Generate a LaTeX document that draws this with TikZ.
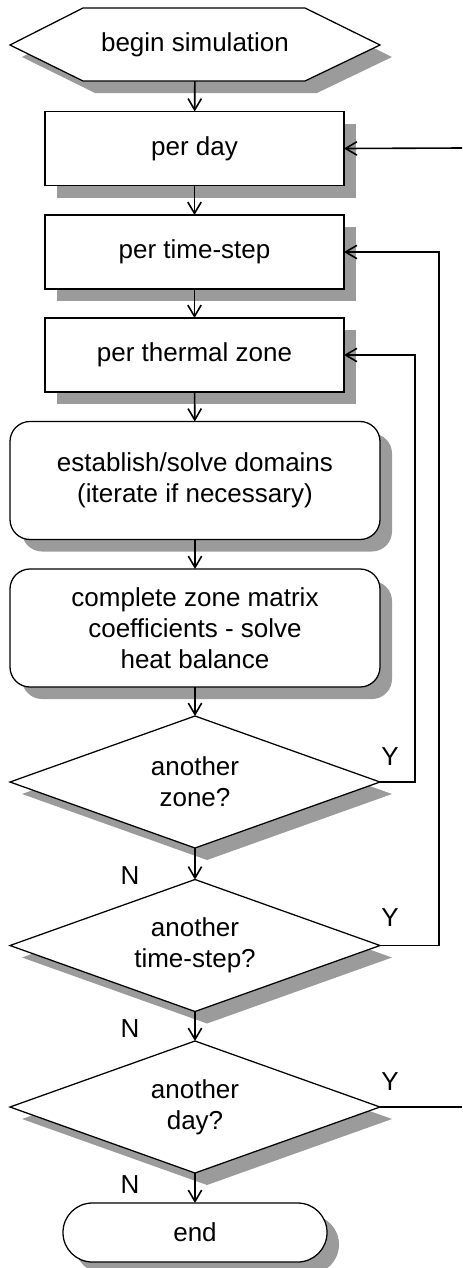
\documentclass[tikz,border=0pt]{standalone}
\usepackage{fontspec}
\setmainfont{Liberation Sans}
\usetikzlibrary{shapes.geometric,shadows,arrows.meta}
\definecolor{shadowgray}{RGB}{155,155,155}
\tikzset{
  shd/.style={drop shadow={shadow xshift=9pt, shadow yshift=-9pt, fill=shadowgray, opacity=1}},
  txt/.style={font=\fontsize{19.5}{23.4}\selectfont, align=center},
  boxshape/.style={shd, txt, draw, fill=white, line width=0.95pt, inner sep=0pt, outer sep=0pt},
  sqbox/.style={boxshape, rectangle, minimum width=224.25pt, minimum height=55.5pt},
  rbox/.style={boxshape, rectangle, rounded corners=15pt, minimum width=277.5pt, minimum height=88.5pt},
  decision/.style={boxshape, diamond, aspect=2.8, minimum width=277.5pt, minimum height=99pt},
  terminal/.style={boxshape, rectangle, rounded corners=22pt, minimum width=198pt, minimum height=44.25pt},
  conn/.style={line width=1.2pt, -{Straight Barb[length=8.5pt,width=10pt,line width=1.2pt]}},
  plainconn/.style={line width=1.2pt},
  lbl/.style={txt, inner sep=0pt}
}
\begin{document}
\begin{tikzpicture}[x=0.75pt,y=-0.75pt]
\useasboundingbox (0,0) rectangle (462,1268);
% begin hexagon
\path[shd, draw, fill=white, line width=0.95pt] (10,45) -- (83,8) -- (305,8) -- (380,45) -- (305,81) -- (83,81) -- cycle;
\node[txt, rectangle, minimum width=277.5pt, minimum height=54.75pt, inner sep=0pt, outer sep=0pt] (begin) at (195,44.5) {begin simulation};
\node[sqbox] (perday) at (194.5,148.5) {per day};
\node[sqbox] (pertime) at (194.5,252) {per time-step};
\node[sqbox] (perzone) at (194.5,355) {per thermal zone};
\node[rbox] (establish) at (195,480.5) {establish/solve domains\\(iterate if necessary)};
\node[rbox] (complete) at (195,628) {complete zone matrix\\coefficients - solve\\heat balance};
\node[decision] (d1) at (195,782) {another\\zone?};
\node[decision] (d2) at (195,945.5) {another\\time-step?};
\node[decision] (d3) at (195,1107) {another\\day?};
\node[terminal] (end) at (195,1232.5) {end};
\coordinate (dayin) at (462,148);
\coordinate (dayout) at (462,1107);
% connectors
\draw[conn] (begin) -- (perday);
\draw[conn] (perday) -- (pertime);
\draw[conn] (pertime) -- (perzone);
\draw[conn] (perzone) -- (establish);
\draw[conn] (establish) -- (complete);
\draw[conn] (complete) -- (d1);
\draw[conn] (d1.south) -- (d2.north);
\draw[conn] (d2.south) -- (d3.north);
\draw[conn] (d3.south) -- (end.north);
\draw[conn] (d1.east) -- ++(35,0) |- (perzone.east);
\draw[conn] (d2.east) -- ++(59,0) |- (pertime.east);
\draw[plainconn] (d3.east) -- (dayout);
\draw[conn] (dayin) -- (perday.east);
% labels
\node[lbl] (y1) at (390,757) {Y};
\node[lbl] (y2) at (390,918) {Y};
\node[lbl] (y3) at (390,1082) {Y};
\node[lbl] (n1) at (130,876) {N};
\node[lbl] (n2) at (130,1029) {N};
\node[lbl] (n3) at (130,1185) {N};
\end{tikzpicture}
\end{document}
